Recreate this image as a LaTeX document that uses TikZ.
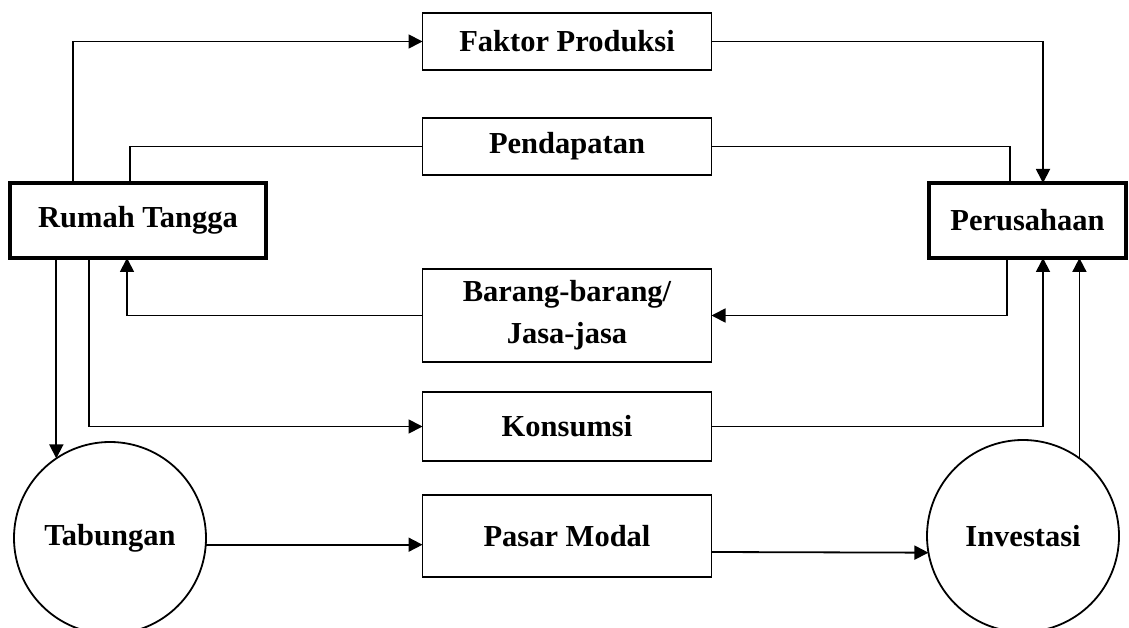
\documentclass[tikz,border=0pt]{standalone}
\usepackage{fontspec}
\setmainfont{Liberation Serif}
\usepackage{tikz}
\usetikzlibrary{arrows.meta, positioning, shapes.geometric}

\begin{document}
\begin{tikzpicture}[
        x=1pt, y=1pt,
        node distance=30pt,
        box/.style={rectangle, draw=black, line width=1.8pt, minimum width=289pt,
                    outer sep=0pt, align=center, font=\fontsize{30.5}{42}\selectfont\bfseries},
        mainbox/.style={rectangle, draw=black, line width=3.5pt, minimum height=75pt,
                    outer sep=0pt, font=\fontsize{30.5}{36}\selectfont\bfseries},
        roundnode/.style={circle, draw=black, line width=1.8pt, minimum size=192pt,
                    inner sep=0pt, outer sep=0pt, font=\fontsize{30.5}{36}\selectfont\bfseries},
        arrow/.style={-{Triangle[length=14pt, width=14pt]}, line width=1.8pt},
        link/.style={line width=1.8pt}
    ]
        \useasboundingbox (0,0) rectangle (1129,-628);

        % Sectors
        \node[mainbox, minimum width=256pt] (rumah) at (138,-220.5) {Rumah Tangga};
        \node[mainbox, minimum width=197pt] (perusahaan) at (1027.5,-220.5) {Perusahaan};
        \node[roundnode] (tabungan) at (110,-538) {Tabungan};
        \node[roundnode] (investasi) at (1023,-536) {Investasi};

        % Flows in the middle
        \node[box, minimum height=57pt] (faktor) at (567,-41.5) {Faktor Produksi};
        \node[box, minimum height=57pt, below=48pt of faktor] (pendapatan) {Pendapatan};
        \node[box, minimum height=93pt, below=94pt of pendapatan] (barang) {Barang-barang/\\Jasa-jasa};
        \node[box, minimum height=69pt, below=30pt of barang] (konsumsi) {Konsumsi};
        \node[box, minimum height=82pt, below=34pt of konsumsi] (pasar) {Pasar Modal};

        % Arrows
        \draw[arrow] ([xshift=63pt]rumah.north west) |- (faktor.west);
        \draw[arrow] (faktor.east) -| ([xshift=15.5pt]perusahaan.north);
        \draw[link] ([xshift=120pt]rumah.north west) |- (pendapatan.west);
        \draw[link] (pendapatan.east) -| ([xshift=-17.5pt]perusahaan.north);
        \draw[arrow] ([xshift=-20.5pt]perusahaan.south) |- (barang.east);
        \draw[arrow] (barang.west) -| ([xshift=117pt]rumah.south west);
        \draw[arrow] ([xshift=79pt]rumah.south west) |- (konsumsi.west);
        \draw[arrow] (konsumsi.east) -| ([xshift=15.5pt]perusahaan.south);
        \draw[arrow] (tabungan.124 |- rumah.south) -- (tabungan.124);
        \draw[arrow] (tabungan.-4) -- (tabungan.-4 -| pasar.west);
        \draw[arrow] ([yshift=-16pt]pasar.east) -- (investasi.190);
        \draw[arrow] (investasi.54) -- (investasi.54 |- perusahaan.south);
    \end{tikzpicture}
\end{document}
